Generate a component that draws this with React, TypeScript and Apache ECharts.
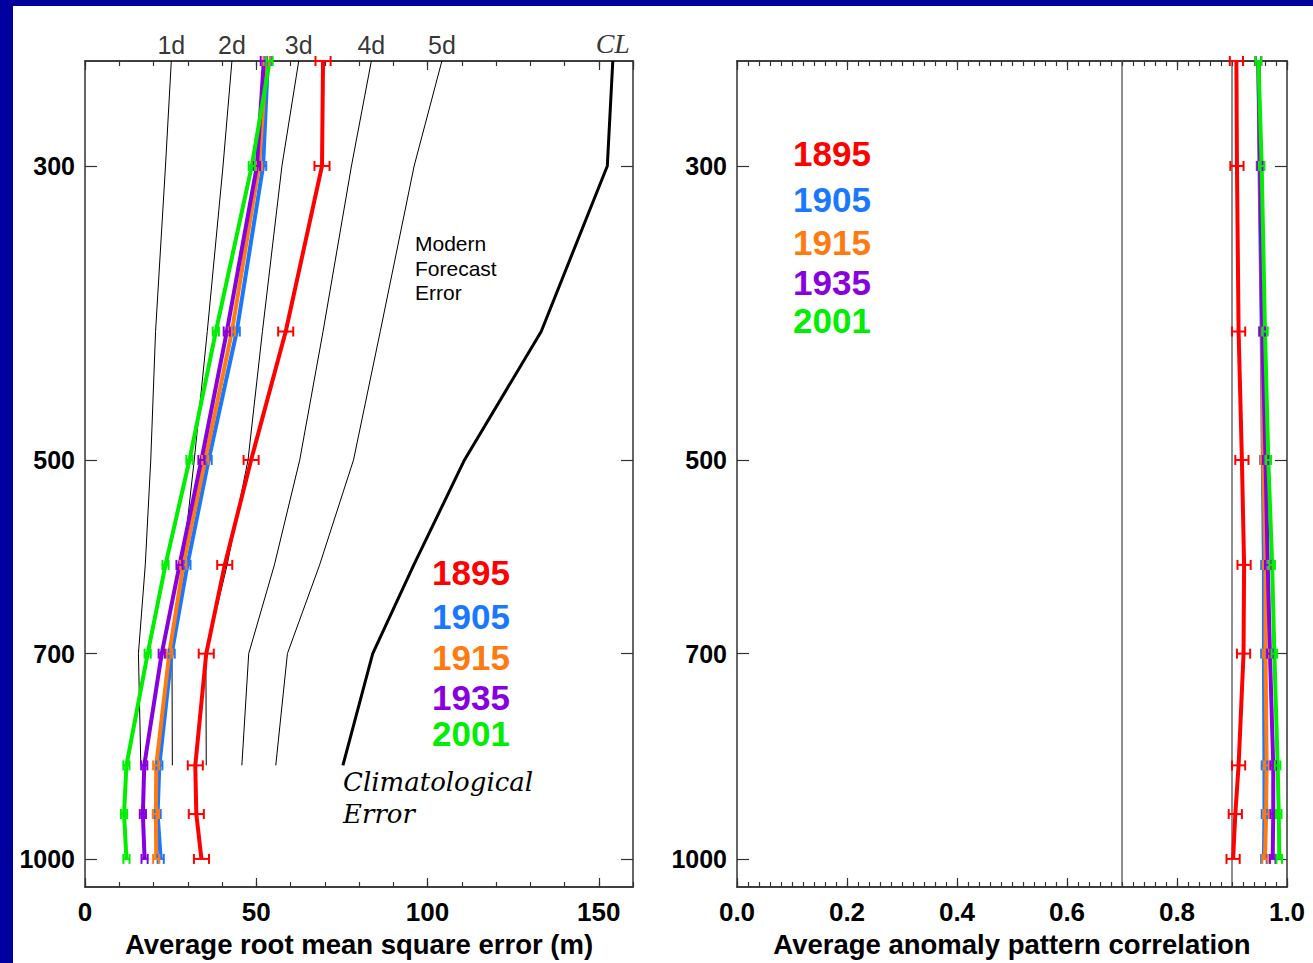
import React, { useEffect, useRef } from "react";
import * as echarts from "echarts";

// ---------- data ----------
const LEVELS = [250, 300, 400, 500, 600, 700, 850, 925, 1000];
const YEARS = ["1895", "1905", "1915", "1935", "2001"];
const COLORS = ["#ff0000", "#1a78ff", "#ff7a10", "#8800e0", "#00ee00"];

// Average RMSE (m)
const RMSE_1895 = [69.5, 69.2, 58.6, 48.5, 40.8, 35.4, 32.2, 32.5, 34.0];
const RMSE_1905 = [53.4, 52.0, 44.3, 36.1, 29.9, 25.3, 21.7, 21.2, 22.1];
const RMSE_1915 = [53.0, 50.8, 42.9, 35.1, 28.7, 24.6, 20.8, 20.7, 20.8];
const RMSE_1935 = [52.2, 50.2, 41.4, 34.0, 27.6, 22.4, 17.3, 16.9, 17.4];
const RMSE_2001 = [53.9, 48.7, 38.2, 30.5, 23.5, 18.3, 12.1, 11.4, 12.1];
const RMSE_ERR = [2.2, 0.9, 0.9, 0.9, 0.9];

// Average anomaly pattern correlation
const ACC_1895 = [0.908, 0.909, 0.912, 0.918, 0.922, 0.921, 0.912, 0.906, 0.902];
const ACC_1905 = [0.948, 0.950, 0.954, 0.956, 0.958, 0.958, 0.959, 0.959, 0.958];
const ACC_1915 = [0.948, 0.951, 0.955, 0.957, 0.961, 0.961, 0.963, 0.962, 0.960];
const ACC_1935 = [0.948, 0.951, 0.955, 0.961, 0.965, 0.969, 0.975, 0.975, 0.974];
const ACC_2001 = [0.948, 0.954, 0.960, 0.966, 0.973, 0.977, 0.983, 0.985, 0.986];
const ACC_ERR = [0.012, 0.005, 0.005, 0.005, 0.005];

// Modern forecast error and climatological error (m)
const FC_LEVELS = [250, 300, 400, 500, 600, 700, 850];
const FC_NAMES = ["1d", "2d", "3d", "4d", "5d"];
const FC_1D = [25.2, 23.5, 20.6, 19.2, 17.6, 15.6, 16.3];
const FC_2D = [42.9, 40.3, 35.7, 31.9, 28.5, 25.4, 25.5];
const FC_3D = [62.4, 57.5, 51.8, 47.6, 41.5, 35.3, 35.4];
const FC_4D = [83.6, 77.8, 69.5, 62.7, 55.3, 47.8, 45.8];
const FC_5D = [104.2, 96.1, 86.2, 78.4, 68.5, 59.1, 55.7];
const CLIM = [154.1, 152.5, 133.2, 110.8, 96.0, 84.0, 75.3];
const CLIM_NAME = "CL";

const REF_LINES = [0.7, 0.9];
const Y_TICKS = [300, 500, 700, 1000];
const P_MIN = 250;
const P_MAX = 1050;

const RMSE_ALL = [RMSE_1895, RMSE_1905, RMSE_1915, RMSE_1935, RMSE_2001];
const ACC_ALL = [ACC_1895, ACC_1905, ACC_1915, ACC_1935, ACC_2001];
const FC_ALL = [FC_1D, FC_2D, FC_3D, FC_4D, FC_5D];

// ---------- style ----------
const SANS = "'Liberation Sans', Arial, Helvetica, sans-serif";
const SERIF = "'Liberation Serif', 'Times New Roman', serif";
const SERIF2 = "'DejaVu Serif', 'Liberation Serif', serif";
const AX = "#333";
const lg = (p: number) => Math.log10(p);

function makeXAxes(gridIndex: number, max: number, major: number, minor: number, name: string, fmt: (v: number) => string, showMax: boolean) {
  const line = { show: true, onZero: false, lineStyle: { color: AX, width: 1.5 } };
  const base: any = { gridIndex, type: "value", min: 0, max, splitLine: { show: false } };
  const tickMinor = { show: true, inside: true, length: 5, lineStyle: { color: AX, width: 1.2 } };
  const tickMajor = { show: true, inside: true, length: 9, lineStyle: { color: AX, width: 1.2 } };
  return [
    { ...base, position: "bottom", interval: minor, axisLine: line, axisTick: tickMinor, axisLabel: { show: false } },
    {
      ...base, position: "bottom", interval: major, axisLine: line, axisTick: tickMajor,
      axisLabel: { show: true, showMaxLabel: showMax, formatter: fmt, fontSize: 26, fontWeight: "bold", color: "#000", fontFamily: SANS, margin: 12 },
      name, nameLocation: "middle", nameGap: 43,
      nameTextStyle: { fontSize: 27.5, fontWeight: "bold", color: "#000", fontFamily: SANS },
    },
    { ...base, position: "top", interval: minor, axisLine: line, axisTick: tickMinor, axisLabel: { show: false } },
    { ...base, position: "top", interval: major, axisLine: line, axisTick: tickMajor, axisLabel: { show: false } },
  ];
}

function makeYAxes(gridIndex: number) {
  const line = { show: true, onZero: false, lineStyle: { color: AX, width: 1.5 } };
  const ticks = Y_TICKS.map(lg);
  const base: any = { gridIndex, type: "value", min: lg(P_MIN), max: lg(P_MAX), inverse: true, splitLine: { show: false } };
  const tick = { show: true, inside: true, length: 12, customValues: ticks, lineStyle: { color: AX, width: 1.2 } };
  return [
    {
      ...base, position: "left", axisLine: line, axisTick: tick,
      axisLabel: {
        show: true, customValues: ticks, margin: 10,
        formatter: (v: number) => String(Math.round(Math.pow(10, v))),
        fontSize: 25, fontWeight: "bold", color: "#000", fontFamily: SANS,
      },
    },
    { ...base, position: "right", axisLine: line, axisTick: tick, axisLabel: { show: false } },
  ];
}

function errorSeries(xAxisIndex: number, yAxisIndex: number, vals: number[], err: number, color: string, z: number) {
  return {
    type: "custom", xAxisIndex, yAxisIndex, z, silent: true,
    data: LEVELS.map((p, i) => [vals[i] - err, vals[i] + err, lg(p)]),
    encode: { x: [0, 1], y: 2 },
    renderItem: (params: any, api: any) => {
      const lo = api.coord([api.value(0), api.value(2)]);
      const hi = api.coord([api.value(1), api.value(2)]);
      const h = 5;
      const style = { stroke: color, lineWidth: 2 };
      return {
        type: "group",
        children: [
          { type: "line", shape: { x1: lo[0], y1: lo[1], x2: hi[0], y2: hi[1] }, style },
          { type: "line", shape: { x1: lo[0], y1: lo[1] - h, x2: lo[0], y2: lo[1] + h }, style },
          { type: "line", shape: { x1: hi[0], y1: hi[1] - h, x2: hi[0], y2: hi[1] + h }, style },
        ],
      };
    },
  };
}

export default function App() {
  const ref = useRef<HTMLDivElement>(null);
  useEffect(() => {
    if (!ref.current) return;
    const chart = echarts.init(ref.current, undefined, { renderer: "svg" });

    const xAxis = [
      ...makeXAxes(0, 160, 50, 10, "Average root mean square error (m)", (v) => String(v), false),
      ...makeXAxes(1, 1, 0.2, 0.02, "Average anomaly pattern correlation", (v) => v.toFixed(1), true),
    ];
    const yAxis = [...makeYAxes(0), ...makeYAxes(1)];

    const series: any[] = [];
    // modern forecast error lines
    FC_ALL.forEach((arr, k) => {
      series.push({
        type: "line", name: FC_NAMES[k], xAxisIndex: 1, yAxisIndex: 0, z: 2, silent: true,
        data: FC_LEVELS.map((p, i) => [arr[i], lg(p)]),
        symbol: "none", lineStyle: { color: "#000", width: 1 },
      });
    });
    series.push({
      type: "line", name: CLIM_NAME, xAxisIndex: 1, yAxisIndex: 0, z: 2, silent: true,
      data: FC_LEVELS.map((p, i) => [CLIM[i], lg(p)]),
      symbol: "none", lineStyle: { color: "#000", width: 3 },
    });
    // top labels
    series.push({
      type: "scatter", xAxisIndex: 1, yAxisIndex: 0, z: 2, silent: true,
      symbolSize: 1, itemStyle: { color: "rgba(0,0,0,0)" },
      data: FC_ALL.map((arr, k) => ({
        name: FC_NAMES[k], value: [arr[0], lg(FC_LEVELS[0])],
        label: { show: true, position: "top", distance: 3, formatter: "{b}", fontSize: 25, color: "#000", fontFamily: SANS },
      })).concat([{
        name: CLIM_NAME, value: [CLIM[0], lg(FC_LEVELS[0])],
        label: { show: true, position: "top", distance: 3, formatter: "{b}", fontSize: 28, fontStyle: "italic", color: "#000", fontFamily: SERIF } as any,
      }]),
    });
    // reference lines on right panel
    REF_LINES.forEach((v) => {
      series.push({
        type: "line", xAxisIndex: 5, yAxisIndex: 2, z: 1, silent: true, symbol: "none",
        data: [[v, lg(P_MIN)], [v, lg(P_MAX)]],
        lineStyle: { color: "#444", width: 1.2 },
      });
    });
    // colored series
    YEARS.forEach((yr, k) => {
      series.push({
        type: "line", name: yr, xAxisIndex: 1, yAxisIndex: 0, z: 3 + k * 0.1, silent: true,
        data: LEVELS.map((p, i) => [RMSE_ALL[k][i], lg(p)]),
        symbol: "none", lineStyle: { color: COLORS[k], width: 4 },
      });
      series.push(errorSeries(1, 0, RMSE_ALL[k], RMSE_ERR[k], COLORS[k], 4 + k * 0.1));
      series.push({
        type: "line", name: yr, xAxisIndex: 5, yAxisIndex: 2, z: 3 + k * 0.1, silent: true,
        data: LEVELS.map((p, i) => [ACC_ALL[k][i], lg(p)]),
        symbol: "none", lineStyle: { color: COLORS[k], width: 4 },
      });
      series.push(errorSeries(5, 2, ACC_ALL[k], ACC_ERR[k], COLORS[k], 4 + k * 0.1));
    });

    const leftLegendY = [566, 610, 651, 691, 727];
    const rightLegendY = [147, 193, 236, 276, 314];
    const graphic: any[] = [];
    YEARS.forEach((yr, k) => {
      graphic.push({
        type: "text", x: 419, y: leftLegendY[k], silent: true,
        style: { text: yr, fill: COLORS[k], font: `bold 35px ${SANS}`, textVerticalAlign: "middle" },
      });
      graphic.push({
        type: "text", x: 780, y: rightLegendY[k], silent: true,
        style: { text: yr, fill: COLORS[k], font: `bold 35px ${SANS}`, textVerticalAlign: "middle" },
      });
    });
    ["Modern", "Forecast", "Error"].forEach((t, i) => {
      graphic.push({
        type: "text", x: 402, y: 237.5 + i * 24.5, silent: true,
        style: { text: t, fill: "#000", font: `21px ${SANS}`, textVerticalAlign: "middle" },
      });
    });
    ["Climatological", "Error"].forEach((t, i) => {
      graphic.push({
        type: "text", x: 330, y: 776 + i * 32, silent: true,
        style: { text: t, fill: "#000", font: `italic 26px ${SERIF2}`, textVerticalAlign: "middle" },
      });
    });

    chart.setOption({
      animation: false,
      backgroundColor: "#ffffff",
      grid: [
        { left: 72, top: 55, width: 548, height: 826 },
        { left: 724, top: 55, width: 550, height: 826 },
      ],
      xAxis,
      yAxis,
      series,
      graphic,
    });
    return () => chart.dispose();
  }, []);

  return (
    <div style={{ position: "absolute", left: 0, top: 0, width: 1313, height: 963, background: "#00009e", overflow: "hidden" }}>
      <div ref={ref} style={{ position: "absolute", left: 13, top: 6, width: 1300, height: 957 }} />
    </div>
  );
}
